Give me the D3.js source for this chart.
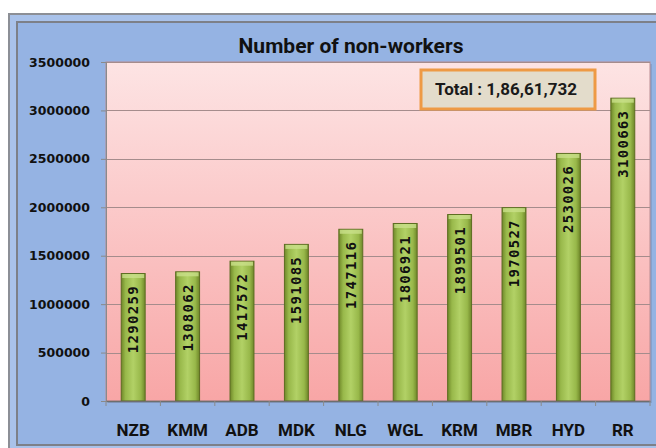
<!DOCTYPE html>
<html><head><meta charset="utf-8">
<script src="https://cdn.jsdelivr.net/npm/d3@7"></script>
<style>html,body{margin:0;padding:0;background:#fff;}svg{display:block;}</style>
</head><body>
<svg id="c" width="656" height="448"></svg>
<script>
const categories = ["NZB","KMM","ADB","MDK","NLG","WGL","KRM","MBR","HYD","RR"];
const values = [1290259,1308062,1417572,1591085,1747116,1806921,1899501,1970527,2530026,3100663];
const yTicks = [0,500000,1000000,1500000,2000000,2500000,3000000,3500000];
const title = "Number of non-workers";
const totalLabel = "Total : 1,86,61,732";

(function(){
const svg = d3.select("#c");
const defs = svg.append("defs");

const pg = defs.append("linearGradient").attr("id","plotbg").attr("x1",0).attr("y1",0).attr("x2",0).attr("y2",1);
pg.append("stop").attr("offset","0%").attr("stop-color","#fde4e4");
pg.append("stop").attr("offset","100%").attr("stop-color","#f8a6a6");

const bg = defs.append("linearGradient").attr("id","bargrad").attr("x1",0).attr("y1",0).attr("x2",1).attr("y2",0);
[["0%","#6f8729"],["18%","#98b84a"],["50%","#b2d166"],["82%","#98b84a"],["100%","#6f8729"]]
  .forEach(([o,c])=>bg.append("stop").attr("offset",o).attr("stop-color",c));

// frames
svg.append("rect").attr("x",9).attr("y",14).attr("width",660).attr("height",440)
  .attr("fill","#a9c2ea").attr("stroke","#8c8f96").attr("stroke-width",2);
svg.append("rect").attr("x",17).attr("y",22).attr("width",650).attr("height",423)
  .attr("fill","#95b3e3").attr("stroke","#7d8088").attr("stroke-width",2);

const pl = 106, pr = 650, pt = 62, pb = 401;
const x = d3.scaleBand().domain(categories).range([pl,pr]).paddingInner(0.56).paddingOuter(0.28);
const y = d3.scaleLinear().domain([0,3500000]).range([pb,pt]);
const cap = 2.5;

// plot area shadow + bg
svg.append("rect").attr("x",pl+2).attr("y",pt+2).attr("width",pr-pl).attr("height",pb-pt)
  .attr("fill","#7a8fb5").attr("opacity",0.5);
svg.append("rect").attr("x",pl).attr("y",pt).attr("width",pr-pl).attr("height",pb-pt)
  .attr("fill","url(#plotbg)").attr("stroke","#b98c92").attr("stroke-width",1);

// gridlines
svg.append("g").selectAll("line").data(yTicks.filter(d=>d>0)).join("line")
  .attr("x1",pl).attr("x2",pr).attr("y1",d=>Math.round(y(d))+0.5).attr("y2",d=>Math.round(y(d))+0.5)
  .attr("stroke","#a58c8c").attr("stroke-width",1);

// y axis
const ya = svg.append("g").attr("transform",`translate(${pl},0)`)
  .call(d3.axisLeft(y).tickValues(yTicks).tickSize(5).tickPadding(11).tickFormat(d3.format("d")));
ya.select(".domain").attr("stroke","#8a8a8a");
ya.selectAll(".tick line").attr("stroke","#8a8a8a");
ya.selectAll("text").attr("font-family","DejaVu Sans").attr("font-weight","bold").attr("font-size","12.5px").attr("fill","#111");

// bars
const bars = svg.append("g").selectAll("g").data(values).join("g");
bars.append("rect")
  .attr("x",(d,i)=>x(categories[i])).attr("width",x.bandwidth())
  .attr("y",d=>y(d)-cap).attr("height",d=>y(0)-y(d)+cap)
  .attr("fill","url(#bargrad)").attr("stroke","#5d6d22").attr("stroke-width",1);
bars.append("rect")
  .attr("x",(d,i)=>x(categories[i])+1).attr("width",x.bandwidth()-2)
  .attr("y",d=>y(d)-cap+0.5).attr("height",4)
  .attr("fill","#c9e08a").attr("opacity",0.8);
bars.append("text")
  .attr("transform",(d,i)=>`translate(${x(categories[i])+x.bandwidth()/2+5},${y(d)+9}) rotate(-90)`)
  .attr("text-anchor","end")
  .attr("font-family","DejaVu Sans Mono").attr("font-weight","bold").attr("font-size","14px")
  .attr("letter-spacing","1.3px").attr("fill","#111")
  .text(d=>d);

// x axis
const xa = svg.append("g").attr("transform",`translate(0,${pb})`)
  .call(d3.axisBottom(x).tickSize(0).tickPadding(23));
xa.select(".domain").attr("stroke","#6e6e6e").attr("stroke-width",1.5);
xa.selectAll("text").attr("font-family","Roboto").attr("font-weight","bold").attr("font-size","17px").attr("fill","#111");
svg.append("g").selectAll("line").data(d3.range(categories.length+1)).join("line")
  .attr("x1",i=>pl+i*x.step()).attr("x2",i=>pl+i*x.step())
  .attr("y1",pb).attr("y2",pb+5).attr("stroke","#8a8a8a");

// title
svg.append("text").attr("x",351).attr("y",53).attr("text-anchor","middle")
  .attr("font-family","Roboto").attr("font-weight","bold").attr("font-size","21px").attr("fill","#111")
  .text(title);

// total box
svg.append("rect").attr("x",421).attr("y",70).attr("width",174).attr("height",39)
  .attr("fill","#e3dccb").attr("stroke","#ee9a45").attr("stroke-width",3);
svg.append("text").attr("x",506).attr("y",95).attr("text-anchor","middle")
  .attr("font-family","Roboto").attr("font-weight","bold").attr("font-size","17px").attr("fill","#1a1a1a")
  .text(totalLabel);
})();
</script>
</body></html>
